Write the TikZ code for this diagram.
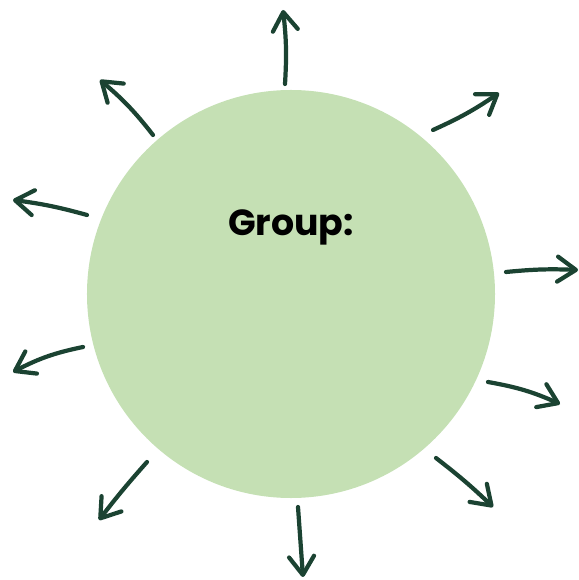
\documentclass[tikz,border=0pt]{standalone}
\usepackage{fontspec}
\newfontfamily\grpfont{Poppins}
\usetikzlibrary{positioning,arrows.meta}
\definecolor{leaf}{HTML}{C5E0B4}
\definecolor{pine}{HTML}{1B4332}

\begin{document}
\begin{tikzpicture}[
  x=0.03cm, y=0.03cm,
  blob/.style ={circle,fill=leaf,minimum size=12.24cm,inner sep=0pt},
  title/.style={font=\grpfont\bfseries\fontsize{31}{36}\selectfont,text=black},
  ray/.style  ={draw=pine,line width=3.6pt,line cap=round,
                -{Straight Barb[length=5.5mm,width=7.5mm,round]}}]
\useasboundingbox (0,0) rectangle (578,580);
% --- the group circle and its heading ---
\node[blob] (grp) at (291,286) {};
\node[title] (head) at (291,353) {Group:};
% --- rays pointing outwards, clockwise from the top ---
\foreach \i/\sx/\sy/\ex/\ey/\bd in
  {1/285/496/283/570/-5,
   2/433/450/499/487/-5,
   3/506/308/578/310/4,
   4/488/198/560/176/7,
   5/436/122/493/73/3,
   6/298/73/303/3/0,
   7/147/118/99/60/-2,
   8/83/233/13/208/-8,
   9/87/365/13/380/-4,
   10/153/445/100/500/-6}
{
  \coordinate (s\i) at (\sx,\sy);
  \coordinate (e\i) at (\ex,\ey);
  \draw[ray] (s\i) to[bend left=\bd] (e\i);
}
\end{tikzpicture}
\end{document}
